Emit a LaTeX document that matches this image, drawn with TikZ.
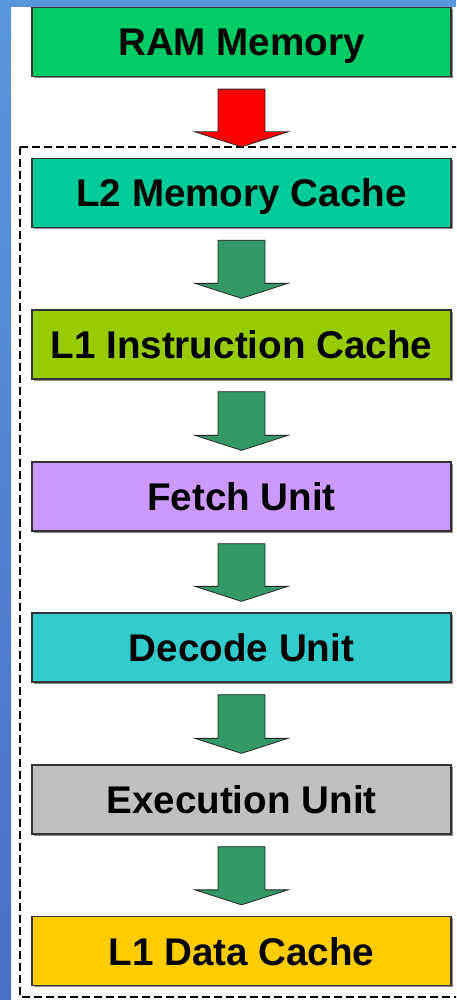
\documentclass[tikz,border=0pt]{standalone}
\usepackage{fontspec}
\setmainfont{Liberation Sans}
\usetikzlibrary{calc,shadows}

\definecolor{ramgreen}{HTML}{00CC66}
\definecolor{ltwogreen}{HTML}{00CC99}
\definecolor{linstrgreen}{HTML}{99CC00}
\definecolor{fetchviolet}{HTML}{CC99FF}
\definecolor{decodecyan}{HTML}{33CCCC}
\definecolor{execgray}{HTML}{C0C0C0}
\definecolor{ldatayellow}{HTML}{FFCC00}
\definecolor{flowgreen}{HTML}{339966}
\definecolor{stripblue}{HTML}{5A96DC}
\definecolor{stripdark}{HTML}{4A70C6}

\tikzset{
    unitbox/.style={rectangle, draw=black!80, line width=1.3pt,
        minimum width=419pt, minimum height=69pt, inner sep=0pt,
        text height=28pt, text depth=0pt,
        font=\bfseries\fontsize{38.6}{44}\selectfont,
        drop shadow={shadow xshift=1.5pt, shadow yshift=-1.5pt, fill=black!45, opacity=1}},
    flowarrow/.style={draw=black!85, line width=0.8pt, line join=miter}
}

% block arrow from the bottom of #1 to the top of #2
\newcommand{\blockarrow}[3]{%
    \filldraw[flowarrow, fill=#3]
        ($(#1.south)+(-23.5,12)$) -- ($(#1.south)+(23.5,12)$)
        -- ($(#2.north)+(23.5,-26)$) -- ($(#2.north)+(46.5,-26)$)
        -- ($(#2.north)+(0,-11)$)
        -- ($(#2.north)+(-46.5,-26)$) -- ($(#2.north)+(-23.5,-26)$) -- cycle;
}

\begin{document}
\begin{tikzpicture}[x=1pt, y=-1pt]
        \clip (0,0) rectangle (456,1000);
        \fill[white] (0,0) rectangle (456,1000);
        % Slide edge
        \fill[stripblue] (0,0) rectangle (456,7);
        \shade[top color=stripblue, bottom color=stripdark] (0,0) rectangle (11,1000);

        % Cache / pipeline frame
        \draw[black, line width=1.2pt, dash pattern=on 8pt off 4pt] (20,147) rectangle (470,997);

        % Nodes
        \node (n1) at (241.5,42) [unitbox, fill=ramgreen] {RAM Memory};
        \node (n2) at (241.5,193) [unitbox, fill=ltwogreen] {L2 Memory Cache};
        \node (n3) at (241.5,344.5) [unitbox, fill=linstrgreen] {L1 Instruction Cache};
        \node (n4) at (241.5,496.5) [unitbox, fill=fetchviolet] {Fetch Unit};
        \node (n5) at (241.5,647.5) [unitbox, fill=decodecyan] {Decode Unit};
        \node (n6) at (241.5,799.5) [unitbox, fill=execgray] {Execution Unit};
        \node (n7) at (241.5,951) [unitbox, fill=ldatayellow] {L1 Data Cache};

        % Arrows
        \blockarrow{n1}{n2}{red}
        \foreach \i/\j in {2/3,3/4,4/5,5/6,6/7} {
            \blockarrow{n\i}{n\j}{flowgreen}
        }
\end{tikzpicture}
\end{document}
